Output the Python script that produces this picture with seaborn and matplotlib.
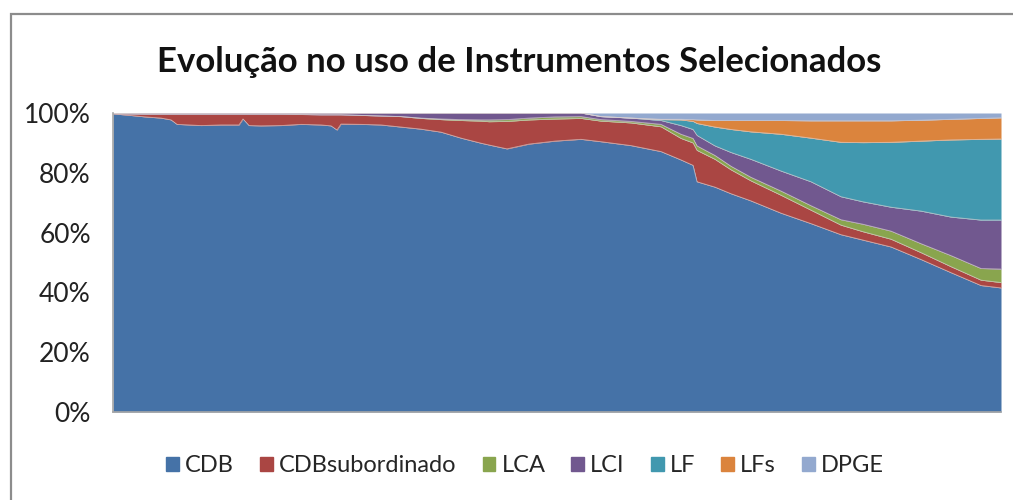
import pandas as pd
import matplotlib.pyplot as plt
import matplotlib.patches as mpatches
from matplotlib.ticker import PercentFormatter
import seaborn as sns

# periodo (semana) e participacao de cada instrumento (%)
semana = [0, 7, 16, 24, 29, 32, 44, 54, 63, 65, 68, 74, 84, 94, 104, 109, 112, 114,
          124, 134, 144, 154, 164, 174, 184, 188, 197, 208, 221, 234, 244, 259, 274,
          284, 290, 292, 301, 309, 319, 334, 349, 364, 375, 389, 404, 419, 434, 444]
cdb = [99.7, 99.3, 98.7, 98.3, 97.7, 96.2, 95.8, 96.0, 96.0, 98.0, 95.8, 95.7, 95.8,
       96.2, 96.0, 95.7, 94.3, 96.3, 96.2, 96.0, 95.3, 94.6, 93.6, 91.6, 89.9, 89.3,
       88.0, 89.6, 90.6, 91.2, 90.4, 89.1, 87.1, 84.3, 82.5, 77.0, 75.2, 73.0, 70.6,
       66.5, 63.0, 59.3, 57.5, 55.2, 51.0, 46.6, 42.3, 41.5]
cdb_sub = [0.1, 0.4, 0.9, 1.3, 1.9, 3.4, 3.8, 3.6, 3.6, 1.6, 3.8, 3.9, 3.8, 3.3, 3.4,
           3.7, 5.1, 3.1, 3.0, 3.0, 3.5, 3.6, 4.2, 5.9, 7.4, 7.8, 9.2, 8.1, 7.4, 7.0,
           6.9, 7.6, 8.3, 7.2, 7.5, 10.5, 9.3, 8.0, 6.7, 6.0, 4.5, 3.2, 2.8, 2.6, 2.3,
           2.0, 1.8, 1.8]
lca = [0, 0, 0, 0, 0, 0, 0, 0, 0, 0, 0, 0, 0, 0, 0, 0, 0, 0, 0, 0, 0, 0.1, 0.2, 0.3,
       0.4, 0.6, 0.6, 0.6, 0.7, 0.6, 0.5, 0.5, 0.8, 1.4, 1.5, 1.5, 1.3, 1.2, 1.2, 1.4,
       1.5, 1.8, 2.5, 2.7, 3.0, 3.7, 3.9, 4.5]
lci = [0.2, 0.3, 0.4, 0.4, 0.4, 0.4, 0.4, 0.4, 0.4, 0.4, 0.4, 0.4, 0.4, 0.5, 0.6, 0.6,
       0.6, 0.6, 0.8, 1.0, 1.2, 1.7, 2.0, 2.2, 2.3, 2.3, 2.2, 1.7, 1.3, 1.2, 1.0, 1.1,
       1.3, 2.9, 3.0, 3.5, 3.2, 4.6, 6.0, 6.7, 8.0, 7.7, 7.5, 8.0, 10.9, 12.9, 16.2, 16.4]
lf = [0, 0, 0, 0, 0, 0, 0, 0, 0, 0, 0, 0, 0, 0, 0, 0, 0, 0, 0, 0, 0, 0, 0, 0, 0, 0, 0,
      0, 0, 0, 0, 0, 0.3, 1.9, 2.7, 4.0, 6.3, 7.7, 9.2, 12.3, 14.6, 18.2, 19.8, 21.7,
      23.4, 25.8, 27.0, 27.1]
lfs = [0, 0, 0, 0, 0, 0, 0, 0, 0, 0, 0, 0, 0, 0, 0, 0, 0, 0, 0, 0, 0, 0, 0, 0, 0, 0, 0,
       0, 0, 0, 0, 0, 0.1, 0.2, 0.6, 1.2, 2.2, 3.0, 3.8, 4.6, 5.8, 7.2, 7.3, 7.2, 7.0,
       6.9, 7.0, 7.1]
dpge = [0, 0, 0, 0, 0, 0, 0, 0, 0, 0, 0, 0, 0, 0, 0, 0, 0, 0, 0, 0, 0, 0, 0, 0, 0, 0,
        0, 0, 0, 0, 1.2, 1.7, 2.1, 2.1, 2.2, 2.3, 2.5, 2.5, 2.5, 2.5, 2.6, 2.6, 2.6, 2.6,
        2.4, 2.1, 1.8, 1.6]

series = ["CDB", "CDBsubordinado", "LCA", "LCI", "LF", "LFs", "DPGE"]
cores = ["#4572A7", "#AA4643", "#89A54E", "#71588F", "#4198AF", "#DB843D", "#93A9CF"]
y_ticks = [0, 20, 40, 60, 80, 100]
titulo = "Evolução no uso de Instrumentos Selecionados"

df = pd.DataFrame({"semana": semana, "CDB": cdb, "CDBsubordinado": cdb_sub, "LCA": lca,
                   "LCI": lci, "LF": lf, "LFs": lfs, "DPGE": dpge})
pct = df[series].div(df[series].sum(axis=1), axis=0) * 100

sns.set_theme(style="white")
plt.rcParams["font.family"] = ["Lato", "DejaVu Sans"]

fig = plt.figure(figsize=(10.13, 5), dpi=100)
ax = fig.add_axes([113 / 1013, 88 / 500, 888 / 1013, 299 / 500])

ax.stackplot(df["semana"], pct.T.values, colors=cores, labels=series, linewidth=0)

# linhas claras entre as areas, como no Excel
cum = pct.cumsum(axis=1).iloc[:, :-1]
cum["semana"] = df["semana"]
longo = cum.melt(id_vars="semana", var_name="serie", value_name="topo")
sns.lineplot(data=longo, x="semana", y="topo", units="serie", estimator=None,
             color="#d9cfcf", linewidth=0.6, alpha=0.7, ax=ax, legend=False)

ax.set_xlim(df["semana"].min(), df["semana"].max())
ax.set_ylim(0, 100)
ax.set_yticks(y_ticks)
ax.yaxis.set_major_formatter(PercentFormatter(decimals=0))
ax.set_xticks([])
ax.set_xlabel("")
ax.set_ylabel("")
ax.tick_params(axis="y", length=0, pad=16, labelsize=19, labelcolor="#222222")
for s in ["top", "right"]:
    ax.spines[s].set_visible(False)
for s in ["left", "bottom"]:
    ax.spines[s].set_color("#a6a6a6")
    ax.spines[s].set_linewidth(1.2)

fig.text(519 / 1013, 1 - 62 / 500, titulo, ha="center", va="center",
         fontsize=25, fontweight="bold", color="#111111")

handles = [mpatches.Patch(color=c, label=s) for c, s in zip(cores, series)]
fig.legend(handles=handles, loc="center", bbox_to_anchor=(525 / 1013, 1 - 466 / 500),
           ncol=7, frameon=False, fontsize=17, handlelength=0.55, handleheight=0.55,
           handletextpad=0.25, columnspacing=1.1, borderaxespad=0, borderpad=0)

# moldura do grafico
fig.add_artist(mpatches.Rectangle((11 / 1013, -0.2), 1.2, 1.2 - 14 / 500,
                                  transform=fig.transFigure, fill=False,
                                  edgecolor="#8c8c8c", linewidth=1.6, clip_on=False))

fig.savefig("out.png", dpi=100)
